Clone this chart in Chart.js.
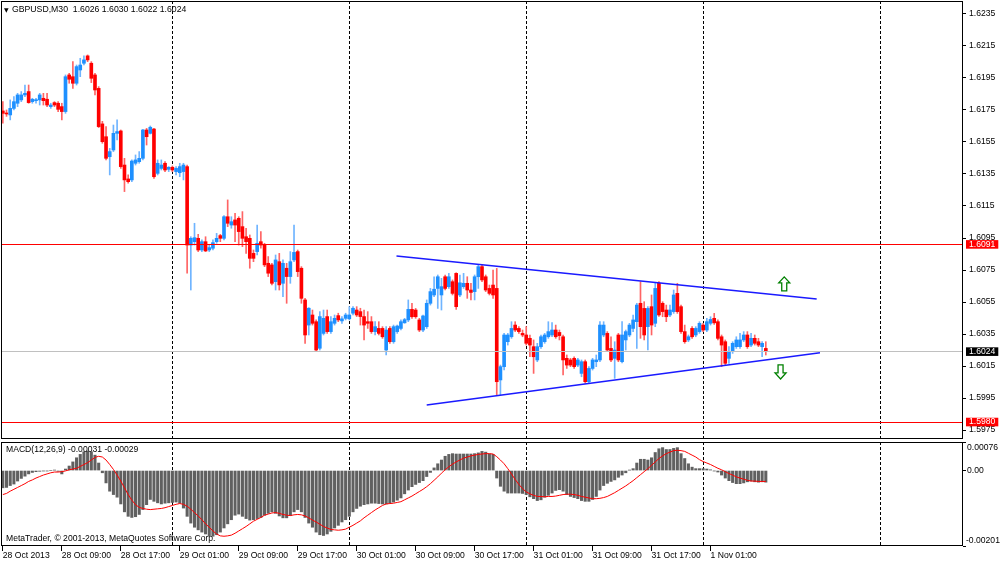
<!DOCTYPE html>
<html>
<head>
<meta charset="utf-8">
<title>GBPUSD,M30</title>
<script src="https://cdn.jsdelivr.net/npm/chart.js"></script>
<style>
  body { margin: 0; background: #fff; }
  #wrap { position: relative; width: 1000px; height: 563px; overflow: hidden; background: #fff; }
  canvas { position: absolute; left: 0; }
  #main { top: 0; }
  #macd { top: 440px; }
</style>
</head>
<body>
<div id="wrap">
  <canvas id="main" width="1000" height="440"></canvas>
  <canvas id="macd" width="1000" height="123"></canvas>
</div>
<script>
// GBPUSD M30 candles, bar 0 = 28 Oct 2013 01:00
const opens = [
  1.61744,1.61729,1.61719,1.61760,1.61792,1.61813,1.61844,1.61865,1.61802,1.61808,
  1.61813,1.61823,1.61817,1.61771,1.61796,1.61792,1.61771,1.61740,1.61969,1.61958,
  1.61917,1.62000,1.62042,1.62088,1.62042,1.61969,1.61885,1.61663,1.61583,1.61458,
  1.61500,1.61604,1.61619,1.61406,1.61319,1.61313,1.61417,1.61427,1.61448,1.61625,
  1.61604,1.61631,1.61354,1.61385,1.61417,1.61379,1.61392,1.61365,1.61358,1.61365,
  1.61396,1.60906,1.60927,1.60948,1.60875,1.60927,1.60875,1.60886,1.60927,1.60965,
  1.60948,1.61083,1.61031,1.61063,1.61073,1.61021,1.60958,1.60948,1.60854,1.60865,
  1.60927,1.60906,1.60792,1.60782,1.60677,1.60802,1.60667,1.60761,1.60709,1.60813,
  1.60865,1.60761,1.60563,1.60406,1.60469,1.60427,1.60261,1.60354,1.60459,1.60365,
  1.60417,1.60465,1.60432,1.60448,1.60445,1.60480,1.60500,1.60490,1.60459,1.60427,
  1.60427,1.60365,1.60385,1.60385,1.60250,1.60385,1.60302,1.60365,1.60385,1.60420,
  1.60438,1.60504,1.60500,1.60438,1.60375,1.60396,1.60542,1.60594,1.60635,1.60594,
  1.60708,1.60646,1.60677,1.60729,1.60594,1.60646,1.60667,1.60625,1.60615,1.60708,
  1.60771,1.60708,1.60635,1.60656,1.60635,1.60063,1.60146,1.60302,1.60333,1.60406,
  1.60385,1.60354,1.60344,1.60323,1.60271,1.60188,1.60271,1.60302,1.60333,1.60344,
  1.60375,1.60360,1.60333,1.60198,1.60188,1.60198,1.60156,1.60104,1.60177,1.60052,
  1.60135,1.60177,1.60188,1.60344,1.60354,1.60260,1.60198,1.60344,1.60177,1.60313,
  1.60344,1.60385,1.60427,1.60542,1.60510,1.60396,1.60521,1.60417,1.60667,1.60542,
  1.60500,1.60469,1.60490,1.60604,1.60521,1.60365,1.60313,1.60385,1.60344,1.60365,
  1.60406,1.60375,1.60417,1.60448,1.60427,1.60333,1.60302,1.60198,1.60240,1.60271,
  1.60271,1.60313,1.60344,1.60281,1.60323,1.60302,1.60271,1.60260
];
const highs = [
  1.61802,1.61750,1.61813,1.61833,1.61854,1.61865,1.61906,1.61906,1.61823,1.61823,
  1.61854,1.61854,1.61854,1.61792,1.61802,1.61802,1.61792,1.61969,1.61979,1.62052,
  1.62031,1.62073,1.62088,1.62094,1.62052,1.61979,1.61896,1.61679,1.61646,1.61510,
  1.61656,1.61688,1.61625,1.61448,1.61344,1.61438,1.61469,1.61490,1.61629,1.61635,
  1.61650,1.61635,1.61438,1.61438,1.61427,1.61396,1.61400,1.61396,1.61417,1.61417,
  1.61406,1.60958,1.61042,1.60973,1.60938,1.60958,1.60906,1.60938,1.60979,1.60973,
  1.61090,1.61188,1.61083,1.61104,1.61083,1.61115,1.61011,1.60969,1.60875,1.61031,
  1.60990,1.60917,1.60834,1.60792,1.60844,1.60854,1.60813,1.60792,1.60865,1.61031,
  1.60875,1.60771,1.60573,1.60515,1.60500,1.60438,1.60490,1.60500,1.60500,1.60459,
  1.60469,1.60480,1.60459,1.60480,1.60521,1.60521,1.60521,1.60511,1.60500,1.60490,
  1.60459,1.60427,1.60427,1.60396,1.60396,1.60396,1.60406,1.60406,1.60438,1.60448,
  1.60563,1.60542,1.60510,1.60448,1.60469,1.60563,1.60635,1.60708,1.60719,1.60698,
  1.60719,1.60729,1.60688,1.60733,1.60719,1.60729,1.60708,1.60667,1.60719,1.60781,
  1.60781,1.60719,1.60656,1.60750,1.60760,1.60156,1.60354,1.60354,1.60427,1.60427,
  1.60396,1.60375,1.60396,1.60344,1.60313,1.60292,1.60344,1.60354,1.60427,1.60421,
  1.60406,1.60375,1.60344,1.60219,1.60198,1.60208,1.60198,1.60188,1.60188,1.60146,
  1.60198,1.60219,1.60427,1.60427,1.60365,1.60333,1.60302,1.60354,1.60427,1.60375,
  1.60417,1.60469,1.60542,1.60677,1.60552,1.60521,1.60594,1.60667,1.60677,1.60552,
  1.60531,1.60531,1.60625,1.60667,1.60531,1.60406,1.60344,1.60396,1.60396,1.60427,
  1.60417,1.60448,1.60458,1.60479,1.60438,1.60344,1.60313,1.60271,1.60302,1.60333,
  1.60354,1.60365,1.60365,1.60354,1.60344,1.60323,1.60302,1.60302
];
const lows = [
  1.61667,1.61710,1.61688,1.61750,1.61771,1.61802,1.61833,1.61792,1.61792,1.61792,
  1.61781,1.61781,1.61771,1.61760,1.61771,1.61740,1.61688,1.61729,1.61917,1.61885,
  1.61906,1.61958,1.62031,1.62052,1.61921,1.61844,1.61640,1.61542,1.61438,1.61344,
  1.61490,1.61563,1.61385,1.61240,1.61292,1.61302,1.61406,1.61417,1.61438,1.61531,
  1.61600,1.61323,1.61344,1.61375,1.61365,1.61365,1.61365,1.61344,1.61333,1.61313,
  1.60731,1.60625,1.60906,1.60865,1.60865,1.60865,1.60865,1.60875,1.60917,1.60927,
  1.60938,1.61021,1.61011,1.60927,1.60906,1.60896,1.60854,1.60761,1.60802,1.60844,
  1.60886,1.60771,1.60709,1.60657,1.60625,1.60625,1.60583,1.60542,1.60667,1.60802,
  1.60709,1.60542,1.60292,1.60344,1.60406,1.60240,1.60250,1.60344,1.60354,1.60354,
  1.60406,1.60427,1.60417,1.60438,1.60438,1.60469,1.60459,1.60406,1.60313,1.60385,
  1.60354,1.60344,1.60344,1.60323,1.60219,1.60292,1.60292,1.60354,1.60375,1.60417,
  1.60427,1.60448,1.60448,1.60365,1.60365,1.60385,1.60531,1.60583,1.60510,1.60500,
  1.60625,1.60635,1.60594,1.60504,1.60583,1.60635,1.60573,1.60563,1.60563,1.60635,
  1.60677,1.60615,1.60594,1.60573,1.59969,1.59969,1.60125,1.60281,1.60323,1.60365,
  1.60354,1.60333,1.60281,1.60208,1.60104,1.60177,1.60260,1.60292,1.60323,1.60333,
  1.60323,1.60313,1.60094,1.60135,1.60146,1.60135,1.60146,1.60083,1.60042,1.60042,
  1.60125,1.60146,1.60177,1.60333,1.60240,1.60177,1.60073,1.60177,1.60170,1.60250,
  1.60333,1.60365,1.60260,1.60323,1.60313,1.60250,1.60344,1.60396,1.60460,1.60458,
  1.60427,1.60458,1.60479,1.60479,1.60354,1.60292,1.60302,1.60323,1.60333,1.60354,
  1.60365,1.60365,1.60406,1.60410,1.60313,1.60146,1.60156,1.60167,1.60229,1.60260,
  1.60260,1.60302,1.60260,1.60271,1.60281,1.60271,1.60208,1.60219
];
const closes = [
  1.61729,1.61725,1.61760,1.61802,1.61844,1.61844,1.61854,1.61796,1.61817,1.61813,
  1.61844,1.61808,1.61781,1.61781,1.61781,1.61754,1.61740,1.61958,1.61942,1.61917,
  1.62021,1.62031,1.62063,1.62063,1.61948,1.61875,1.61646,1.61552,1.61448,1.61490,
  1.61604,1.61615,1.61396,1.61313,1.61302,1.61431,1.61438,1.61448,1.61625,1.61583,
  1.61642,1.61333,1.61417,1.61406,1.61375,1.61392,1.61375,1.61385,1.61396,1.61406,
  1.60906,1.60948,1.60952,1.60875,1.60927,1.60869,1.60890,1.60921,1.60948,1.60948,
  1.61083,1.61042,1.61052,1.61031,1.60990,1.60948,1.60927,1.60823,1.60823,1.60917,
  1.60906,1.60782,1.60730,1.60667,1.60813,1.60657,1.60792,1.60709,1.60802,1.60860,
  1.60740,1.60573,1.60344,1.60511,1.60417,1.60250,1.60459,1.60448,1.60365,1.60427,
  1.60448,1.60438,1.60445,1.60469,1.60469,1.60511,1.60469,1.60459,1.60406,1.60417,
  1.60365,1.60396,1.60354,1.60333,1.60375,1.60302,1.60396,1.60400,1.60427,1.60440,
  1.60504,1.60458,1.60458,1.60375,1.60463,1.60542,1.60615,1.60630,1.60708,1.60646,
  1.60635,1.60708,1.60604,1.60521,1.60670,1.60667,1.60625,1.60610,1.60708,1.60771,
  1.60688,1.60625,1.60604,1.60594,1.60052,1.60146,1.60344,1.60344,1.60385,1.60375,
  1.60365,1.60344,1.60292,1.60281,1.60208,1.60271,1.60333,1.60344,1.60365,1.60375,
  1.60333,1.60340,1.60188,1.60156,1.60156,1.60146,1.60188,1.60177,1.60052,1.60135,
  1.60188,1.60188,1.60406,1.60406,1.60250,1.60188,1.60250,1.60188,1.60344,1.60365,
  1.60406,1.60438,1.60531,1.60396,1.60344,1.60510,1.60406,1.60635,1.60469,1.60490,
  1.60458,1.60500,1.60594,1.60490,1.60365,1.60302,1.60333,1.60333,1.60385,1.60417,
  1.60375,1.60427,1.60441,1.60420,1.60323,1.60281,1.60167,1.60240,1.60292,1.60313,
  1.60313,1.60344,1.60271,1.60323,1.60292,1.60281,1.60292,1.60240
];

// MACD(12,26,9): main histogram and signal line
const macdMain = [
  -0.00046,-0.00045,-0.00040,-0.00036,-0.00028,-0.00021,-0.00015,-0.00009,-0.00005,-0.00003,
  -0.00002,-0.00001,-0.00001,0.00000,0.00001,-0.00002,-0.00009,0.00004,0.00012,0.00023,
  0.00034,0.00043,0.00050,0.00052,0.00050,0.00041,0.00020,-0.00006,-0.00033,-0.00055,
  -0.00064,-0.00071,-0.00089,-0.00110,-0.00122,-0.00125,-0.00123,-0.00117,-0.00104,-0.00091,
  -0.00077,-0.00082,-0.00086,-0.00089,-0.00087,-0.00086,-0.00085,-0.00084,-0.00087,-0.00100,
  -0.00122,-0.00140,-0.00151,-0.00158,-0.00164,-0.00169,-0.00174,-0.00175,-0.00171,-0.00164,
  -0.00153,-0.00142,-0.00131,-0.00119,-0.00116,-0.00122,-0.00128,-0.00132,-0.00131,-0.00128,
  -0.00125,-0.00119,-0.00114,-0.00110,-0.00114,-0.00121,-0.00126,-0.00126,-0.00120,-0.00110,
  -0.00104,-0.00110,-0.00125,-0.00140,-0.00151,-0.00164,-0.00171,-0.00173,-0.00169,-0.00162,
  -0.00153,-0.00146,-0.00137,-0.00131,-0.00122,-0.00110,-0.00101,-0.00095,-0.00091,-0.00089,
  -0.00087,-0.00087,-0.00088,-0.00089,-0.00089,-0.00087,-0.00084,-0.00079,-0.00073,-0.00062,
  -0.00052,-0.00043,-0.00037,-0.00032,-0.00027,-0.00016,-0.00005,0.00007,0.00018,0.00028,
  0.00038,0.00043,0.00045,0.00044,0.00044,0.00044,0.00044,0.00044,0.00045,0.00047,
  0.00051,0.00049,0.00044,0.00043,-0.00020,-0.00042,-0.00055,-0.00060,-0.00060,-0.00060,
  -0.00060,-0.00061,-0.00064,-0.00070,-0.00075,-0.00080,-0.00078,-0.00071,-0.00066,-0.00060,
  -0.00053,-0.00051,-0.00055,-0.00064,-0.00069,-0.00072,-0.00075,-0.00080,-0.00082,-0.00082,
  -0.00077,-0.00069,-0.00052,-0.00040,-0.00034,-0.00029,-0.00025,-0.00018,-0.00012,-0.00006,
  0.00001,0.00005,0.00020,0.00030,0.00030,0.00028,0.00034,0.00048,0.00058,0.00061,
  0.00056,0.00056,0.00059,0.00061,0.00045,0.00032,0.00018,0.00009,0.00005,0.00005,
  0.00005,0.00004,0.00002,-0.00001,-0.00004,-0.00012,-0.00020,-0.00027,-0.00032,-0.00035,
  -0.00035,-0.00033,-0.00030,-0.00028,-0.00030,-0.00031,-0.00030,-0.00031
];
const macdSignal = [
  -0.00064,-0.00061,-0.00055,-0.00050,-0.00045,-0.00040,-0.00035,-0.00029,-0.00025,-0.00020,
  -0.00016,-0.00012,-0.00009,-0.00006,-0.00004,-0.00004,-0.00003,-0.00001,0.00002,0.00004,
  0.00006,0.00011,0.00016,0.00021,0.00028,0.00035,0.00038,0.00036,0.00028,0.00016,
  0.00003,-0.00012,-0.00028,-0.00046,-0.00064,-0.00079,-0.00091,-0.00098,-0.00101,-0.00103,
  -0.00104,-0.00103,-0.00102,-0.00101,-0.00099,-0.00096,-0.00093,-0.00090,-0.00088,-0.00090,
  -0.00095,-0.00103,-0.00112,-0.00121,-0.00131,-0.00142,-0.00151,-0.00161,-0.00169,-0.00174,
  -0.00175,-0.00174,-0.00172,-0.00167,-0.00161,-0.00155,-0.00149,-0.00142,-0.00135,-0.00130,
  -0.00125,-0.00119,-0.00116,-0.00113,-0.00112,-0.00114,-0.00117,-0.00119,-0.00120,-0.00118,
  -0.00117,-0.00118,-0.00121,-0.00126,-0.00132,-0.00137,-0.00143,-0.00149,-0.00153,-0.00157,
  -0.00158,-0.00159,-0.00158,-0.00156,-0.00151,-0.00146,-0.00140,-0.00134,-0.00126,-0.00119,
  -0.00112,-0.00105,-0.00099,-0.00093,-0.00089,-0.00088,-0.00087,-0.00085,-0.00083,-0.00078,
  -0.00073,-0.00068,-0.00062,-0.00056,-0.00050,-0.00043,-0.00035,-0.00026,-0.00017,-0.00007,
  0.00002,0.00010,0.00017,0.00023,0.00028,0.00033,0.00036,0.00039,0.00041,0.00043,
  0.00044,0.00045,0.00045,0.00044,0.00037,0.00028,0.00018,0.00005,-0.00009,-0.00024,
  -0.00037,-0.00048,-0.00057,-0.00062,-0.00066,-0.00069,-0.00069,-0.00070,-0.00069,-0.00069,
  -0.00068,-0.00066,-0.00064,-0.00063,-0.00063,-0.00064,-0.00066,-0.00069,-0.00071,-0.00073,
  -0.00075,-0.00075,-0.00074,-0.00072,-0.00069,-0.00064,-0.00059,-0.00053,-0.00047,-0.00041,
  -0.00034,-0.00027,-0.00019,-0.00011,-0.00003,0.00005,0.00014,0.00023,0.00032,0.00039,
  0.00045,0.00049,0.00053,0.00054,0.00053,0.00051,0.00046,0.00041,0.00036,0.00029,
  0.00024,0.00020,0.00016,0.00011,0.00006,0.00002,-0.00003,-0.00008,-0.00012,-0.00017,
  -0.00020,-0.00023,-0.00026,-0.00028,-0.00028,-0.00029,-0.00029,-0.00029
];

// time axis: 261 bar slots, labels every 16 bars
const xTickIndex = [0, 16, 32, 48, 64, 80, 96, 112, 128, 144, 160, 176, 192];
const xTickLabels = ['28 Oct 2013', '28 Oct 09:00', '28 Oct 17:00', '29 Oct 01:00', '29 Oct 09:00',
  '29 Oct 17:00', '30 Oct 01:00', '30 Oct 09:00', '30 Oct 17:00', '31 Oct 01:00', '31 Oct 09:00',
  '31 Oct 17:00', '1 Nov 01:00'];
const daySeparators = [46, 94, 142, 190, 238];

const priceTicks = [1.6235, 1.6215, 1.6195, 1.6175, 1.6155, 1.6135, 1.6115, 1.6095,
  1.6075, 1.6055, 1.6035, 1.6015, 1.5995, 1.5975];
const levelPrices = [1.6091, 1.6024, 1.5980];
const levelLineColors = ['#ff0000', '#c0c0c0', '#ff0000'];
const levelBoxColors = ['#ff0000', '#000000', '#ff0000'];

const macdTicks = [0.00076, 0, -0.00201];
const macdTickLabels = ['0.00076', '0.00', '-0.00201'];

// triangle trend lines (bar index, price)
const upperTrendX = [106.8, 220.8];
const upperTrendY = [1.60838, 1.60569];
const lowerTrendX = [115.0, 221.7];
const lowerTrendY = [1.59906, 1.60233];

// arrow marks
const arrowIndex = [212, 211];
const arrowPrice = [1.60663, 1.60113];
const arrowDir = ['up', 'down'];

const FONT = '"Liberation Sans", Arial, sans-serif';
Chart.defaults.font.family = FONT;
Chart.defaults.font.size = 8.6;
Chart.defaults.color = '#000';

const last = closes.length - 1;
const BULL = '#1e90ff', BEAR = '#ff0000';
const BULL_WICK = '#6fb4ff', BEAR_WICK = '#ff6464';
const isUp = i => closes[i] >= opens[i];
const clear = 'rgba(0,0,0,0)';

function xAxis(withLabels) {
  return {
    type: 'linear', min: -0.5, max: 260.5, bounds: 'data', offset: false,
    afterBuildTicks: s => {
      s.ticks = xTickIndex.concat(daySeparators).sort((a, b) => a - b).map(v => ({ value: v }));
    },
    afterFit: s => { s.height = withLabels ? 17 : 0; s.paddingLeft = 0; s.paddingRight = 0; },
    grid: {
      offset: false,
      lineWidth: 1,
      color: c => (c.tick && daySeparators.includes(c.tick.value)) ? '#000' : clear,
      drawTicks: withLabels,
      tickLength: 5,
      tickColor: c => (c.tick && xTickIndex.includes(c.tick.value)) ? '#000' : clear,
      tickBorderDash: []
    },
    border: { display: false, dash: [3, 2] },
    ticks: {
      display: withLabels, autoSkip: false, maxRotation: 0, minRotation: 0,
      align: 'start', padding: 0, color: '#000',
      font: { size: 8.6, lineHeight: 1 },
      callback: v => { const k = xTickIndex.indexOf(v); return k >= 0 ? xTickLabels[k] : ''; }
    }
  };
}

const framePlugin = {
  id: 'frame',
  afterDraw(chart) {
    const { ctx, chartArea: a } = chart;
    ctx.save();
    ctx.strokeStyle = '#000';
    ctx.lineWidth = 1;
    ctx.strokeRect(Math.round(a.left) + 0.5, Math.round(a.top) + 0.5,
      Math.round(a.right - a.left) - 1, Math.round(a.bottom - a.top) - 1);
    ctx.restore();
  }
};

const mainText = {
  id: 'mainText',
  afterDraw(chart) {
    const { ctx } = chart;
    const xs = chart.scales.x, ys = chart.scales.y;
    ctx.save();
    // arrows
    arrowIndex.forEach((ix, k) => {
      const px = xs.getPixelForValue(ix), py = ys.getPixelForValue(arrowPrice[k]);
      const d = arrowDir[k] === 'up' ? 1 : -1;
      ctx.beginPath();
      ctx.moveTo(px, py - 7 * d);
      ctx.lineTo(px + 5.5, py - 1 * d);
      ctx.lineTo(px + 2.5, py - 1 * d);
      ctx.lineTo(px + 2.5, py + 7 * d);
      ctx.lineTo(px - 2.5, py + 7 * d);
      ctx.lineTo(px - 2.5, py - 1 * d);
      ctx.lineTo(px - 5.5, py - 1 * d);
      ctx.closePath();
      ctx.fillStyle = '#fff';
      ctx.fill();
      ctx.strokeStyle = '#008000';
      ctx.lineWidth = 1.3;
      ctx.stroke();
    });
    // title
    ctx.fillStyle = '#000';
    ctx.textBaseline = 'middle';
    ctx.font = '6px "DejaVu Sans"';
    ctx.fillText('\u25BC', 4, 10);
    ctx.font = '8.7px ' + FONT;
    const t = 'GBPUSD,M30  ' + [opens[last], highs[last], lows[last], closes[last]].map(v => v.toFixed(4)).join(' ');
    ctx.fillText(t, 12, 10);
    ctx.restore();
  }
};

const macdText = {
  id: 'macdText',
  afterDraw(chart) {
    const { ctx, chartArea: a } = chart;
    const ys = chart.scales.y;
    ctx.save();
    ctx.fillStyle = '#000';
    ctx.font = '8.6px ' + FONT;
    ctx.textBaseline = 'middle';
    ctx.fillText('MACD(12,26,9) ' + macdMain[last].toFixed(5) + ' ' + macdSignal[last].toFixed(5), 6, 10);
    ctx.fillText('MetaTrader, \u00A9 2001-2013, MetaQuotes Software Corp.', 6, 98.5);
    macdTicks.forEach((v, k) => {
      const py = ys.getPixelForValue(v);
      if (k === 0) { ctx.textBaseline = 'top'; ctx.fillText(macdTickLabels[k], a.right + 4, py + 1.5); }
      else if (k === macdTicks.length - 1) { ctx.textBaseline = 'bottom'; ctx.fillText(macdTickLabels[k], a.right + 3, py - 1); }
      else { ctx.textBaseline = 'middle'; ctx.fillText(macdTickLabels[k], a.right + 4, py); }
    });
    ctx.restore();
  }
};

const levelIdx = c => (c.tick ? levelPrices.indexOf(c.tick.value) : -1);

new Chart(document.getElementById('main'), {
  type: 'bar',
  data: {
    datasets: [
      {
        type: 'line', label: 'upper', order: 0,
        data: upperTrendX.map((x, k) => ({ x: x, y: upperTrendY[k] })),
        borderColor: '#1a1aff', borderWidth: 1.6, pointRadius: 0, fill: false
      },
      {
        type: 'line', label: 'lower', order: 0,
        data: lowerTrendX.map((x, k) => ({ x: x, y: lowerTrendY[k] })),
        borderColor: '#1a1aff', borderWidth: 1.6, pointRadius: 0, fill: false
      },
      {
        label: 'body', order: 1, grouped: false,
        data: opens.map((o, i) => ({ x: i, y: [o, closes[i]] })),
        backgroundColor: c => (c.dataIndex === undefined || isUp(c.dataIndex)) ? BULL : BEAR,
        barThickness: 3, minBarLength: 1, borderWidth: 0
      },
      {
        label: 'wick', order: 2, grouped: false,
        data: lows.map((l, i) => ({ x: i, y: [l, highs[i]] })),
        backgroundColor: c => (c.dataIndex === undefined || isUp(c.dataIndex)) ? BULL_WICK : BEAR_WICK,
        barThickness: 1, borderWidth: 0
      }
    ]
  },
  options: {
    responsive: false, maintainAspectRatio: false, animation: false, events: [],
    layout: { padding: { left: 1, top: 1, right: 0, bottom: 1 } },
    plugins: { legend: { display: false }, tooltip: { enabled: false } },
    scales: {
      x: xAxis(false),
      y: {
        type: 'linear', position: 'right', min: 1.59694, max: 1.62431, bounds: 'data',
        afterBuildTicks: s => { s.ticks = priceTicks.concat(levelPrices).map(v => ({ value: v })); },
        afterFit: s => { s.width = 37; s.paddingTop = 0; s.paddingBottom = 0; },
        grid: {
          z: 1, lineWidth: 1,
          color: c => { const k = levelIdx(c); return k >= 0 ? levelLineColors[k] : clear; },
          tickLength: 3,
          tickColor: c => levelIdx(c) >= 0 ? clear : '#000'
        },
        border: { display: false },
        ticks: {
          autoSkip: false, padding: 3,
          font: { size: 8.6, lineHeight: 1 },
          color: c => levelIdx(c) >= 0 ? '#fff' : '#000',
          showLabelBackdrop: c => levelIdx(c) >= 0,
          backdropColor: c => { const k = levelIdx(c); return k >= 0 ? levelBoxColors[k] : clear; },
          backdropPadding: { x: 3, y: 0 },
          callback: v => v.toFixed(4)
        }
      }
    }
  },
  plugins: [framePlugin, mainText]
});

new Chart(document.getElementById('macd'), {
  type: 'bar',
  data: {
    datasets: [
      {
        type: 'line', label: 'signal', order: 0,
        data: macdSignal.map((v, i) => ({ x: i, y: v })),
        borderColor: '#ff0000', borderWidth: 1, pointRadius: 0, tension: 0, fill: false
      },
      {
        label: 'macd', order: 1, grouped: false,
        data: macdMain.map((v, i) => ({ x: i, y: v })),
        backgroundColor: '#606060', barThickness: 2.4, borderWidth: 0
      }
    ]
  },
  options: {
    responsive: false, maintainAspectRatio: false, animation: false, events: [],
    layout: { padding: { left: 1, top: 2, right: 0, bottom: 0 } },
    plugins: { legend: { display: false }, tooltip: { enabled: false } },
    scales: {
      x: xAxis(true),
      y: {
        type: 'linear', position: 'right', min: -0.00201, max: 0.00076, bounds: 'data',
        afterBuildTicks: s => { s.ticks = macdTicks.map(v => ({ value: v })); },
        afterFit: s => { s.width = 37; s.paddingTop = 0; s.paddingBottom = 0; },
        grid: { color: clear, tickLength: 3, tickColor: '#000' },
        border: { display: false },
        ticks: { display: false }
      }
    }
  },
  plugins: [framePlugin, macdText]
});
</script>
</body>
</html>
